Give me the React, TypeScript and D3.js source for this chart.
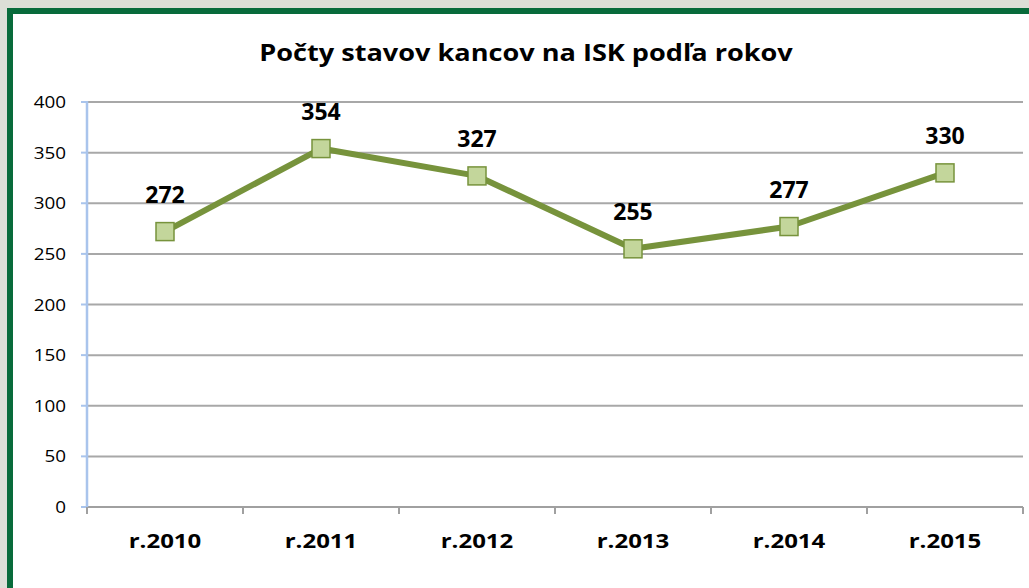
import React from "react";
import * as d3 from "d3";

const categories = ["r.2010", "r.2011", "r.2012", "r.2013", "r.2014", "r.2015"];
const values = [272, 354, 327, 255, 277, 330];
const yTicks = [0, 50, 100, 150, 200, 250, 300, 350, 400];
const title = "Počty stavov kancov na ISK podľa rokov";

const W = 1029;
const H = 588;
const FONT = "'Open Sans', 'DejaVu Sans', sans-serif";

export default function App() {
  const x = d3.scaleBand<string>().domain(categories).range([87, 1023]).padding(0);
  const y = d3.scaleLinear().domain([0, 400]).range([507, 102]);
  const cx = (c: string) => (x(c) as number) + x.bandwidth() / 2;
  const line = d3
    .line<number>()
    .x((_, i) => cx(categories[i]))
    .y((d) => y(d));
  const bounds = [...categories.map((c) => x(c) as number), 1023];
  const ms = 18;

  return (
    <svg width={W} height={H} style={{ position: "absolute", left: 0, top: 0 }}>
      <rect x={0} y={0} width={W} height={H} fill="#dcdfd7" />
      <rect x={10} y={11} width={W + 20} height={H + 20} fill="#ffffff" stroke="#086b3b" strokeWidth={6} />
      <g transform={`translate(526,61) scale(1.13,1)`}>
        <text x={0} y={0} textAnchor="middle" fontFamily={FONT} fontWeight={700} fontSize={24} fill="#000">
          {title}
        </text>
      </g>
      {yTicks.map((t) => (
        <g key={t}>
          {t > 0 && <line x1={87} x2={1023} y1={y(t)} y2={y(t)} stroke="#a8a8a8" strokeWidth={2} />}
          <line x1={81} x2={87} y1={y(t)} y2={y(t)} stroke="#a9c4ec" strokeWidth={2} />
          <g transform={`translate(66,${y(t) + 6}) scale(1.11,1)`}>
            <text x={0} y={0} textAnchor="end" fontFamily={FONT} fontSize={17} fill="#000">
              {t}
            </text>
          </g>
        </g>
      ))}
      <line x1={87} x2={1023} y1={y(0)} y2={y(0)} stroke="#a0a0a0" strokeWidth={2} />
      {bounds.map((b, i) => (
        <line key={i} x1={b} x2={b} y1={y(0)} y2={y(0) + 7} stroke="#a0a0a0" strokeWidth={2} />
      ))}
      <line x1={87} x2={87} y1={y(400) - 1} y2={y(0)} stroke="#a9c4ec" strokeWidth={2.5} />
      {categories.map((c) => (
        <g key={c} transform={`translate(${cx(c)},548) scale(1.2,1)`}>
          <text x={0} y={0} textAnchor="middle" fontFamily={FONT} fontWeight={700} fontSize={20} fill="#000">
            {c}
          </text>
        </g>
      ))}
      <path d={line(values) || ""} fill="none" stroke="#77933c" strokeWidth={6} strokeLinejoin="round" />
      {values.map((v, i) => (
        <g key={i}>
          <rect
            x={cx(categories[i]) - ms / 2}
            y={y(v) - ms / 2}
            width={ms}
            height={ms}
            fill="#c3d69b"
            stroke="#77933c"
            strokeWidth={1.5}
          />
          <text x={cx(categories[i])} y={y(v) - 29} textAnchor="middle" fontFamily={FONT} fontWeight={700} fontSize={23} fill="#000">
            {v}
          </text>
        </g>
      ))}
    </svg>
  );
}
